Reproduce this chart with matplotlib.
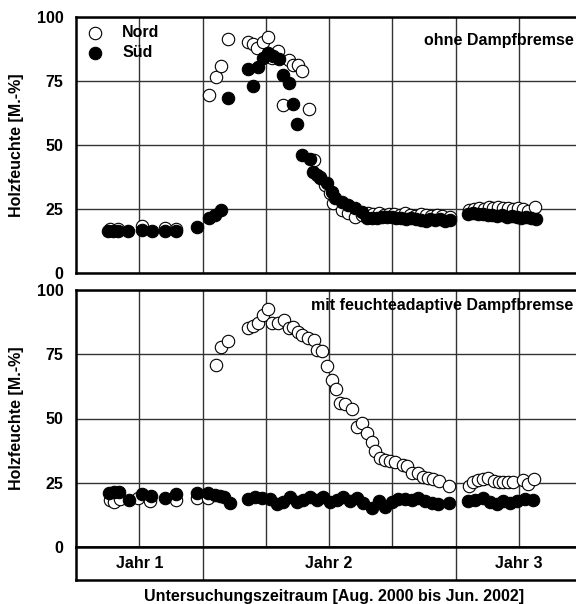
import numpy as np
import matplotlib
matplotlib.use("Agg")
from matplotlib import pyplot as plt

plt.rcParams.update({"font.family": ["Liberation Sans", "DejaVu Sans"],
                     "font.weight": "bold", "font.size": 11.5})

# x in months from the start of the study (Jahr 1 = 0..6, Jahr 2 = 6..18, Jahr 3 = 18..)
# --- top panel: ohne Dampfbremse ---
top_sued_m = [1.53, 1.77, 2.0, 2.48, 3.11, 3.59, 4.22, 4.74, 5.72, 6.33, 6.6, 6.9,
              7.23, 8.18, 8.41, 8.62, 8.86, 9.12, 9.36, 9.64, 9.83, 10.1, 10.31, 10.5,
              10.73, 11.1, 11.26, 11.42, 11.57, 11.89, 12.13, 12.29, 12.6, 12.92, 13.24,
              13.55, 13.79, 14.02, 14.26, 14.5, 14.74, 14.97, 15.2, 15.43, 15.66, 15.89,
              16.12, 16.35, 16.58, 16.81, 17.04, 17.27, 17.5, 17.74,
              18.6, 18.83, 19.06, 19.29, 19.52, 19.75, 19.98, 20.21, 20.44, 20.67, 20.9,
              21.13, 21.36, 21.59, 21.8]
top_sued_v = [16.4, 16.4, 16.6, 16.4, 16.8, 16.4, 16.5, 16.5, 18.1, 21.4, 22.7, 24.6,
              68.5, 79.7, 73.0, 80.6, 83.9, 86.0, 84.8, 83.5, 77.3, 74.1, 65.9, 58.2,
              46.1, 44.5, 39.6, 38.3, 37.0, 35.0, 31.8, 29.2, 27.9, 26.6, 25.3,
              24.0, 21.4, 21.5, 21.4, 21.8, 21.8, 22.0, 21.6, 21.3, 21.0, 21.5,
              21.2, 20.8, 20.5, 21.0, 20.7, 20.9, 20.4, 20.7,
              23.0, 23.3, 22.9, 23.1, 22.6, 22.8, 22.3, 22.5, 22.0, 22.2, 21.8,
              21.6, 21.9, 21.3, 21.2]
top_nord_m = [1.61, 2.0, 3.11, 4.22, 4.74,
              6.33, 6.64, 6.88, 7.23, 8.18, 8.38, 8.57, 8.86, 9.12, 9.28, 9.6, 9.83,
              10.1, 10.31, 10.52, 10.73, 11.05, 11.29, 11.55, 11.8, 12.05, 12.2, 12.6,
              12.9, 13.24, 13.55, 13.85, 14.1, 14.35, 14.6, 14.85, 15.1, 15.35, 15.6,
              15.85, 16.1, 16.35, 16.6, 16.85, 17.1, 17.35, 17.74,
              18.65, 18.88, 19.11, 19.34, 19.57, 19.8, 20.03, 20.26, 20.49, 20.72,
              20.95, 21.2, 21.45, 21.77]
top_nord_v = [17.1, 17.3, 18.5, 17.5, 17.2,
              69.5, 76.7, 80.9, 91.3, 90.4, 89.5, 87.8, 90.4, 92.3, 83.9, 86.8, 65.6,
              83.2, 81.3, 81.3, 78.9, 64.1, 44.1, 37.5, 34.5, 31.1, 27.2, 24.6,
              23.5, 22.0, 22.8, 23.3, 22.9, 23.5, 22.7, 23.2, 23.0, 22.6, 23.4,
              22.8, 22.3, 22.9, 22.5, 22.1, 22.6, 22.2, 22.0,
              24.6, 25.0, 25.3, 25.1, 25.6, 25.4, 25.8, 25.2, 25.5, 24.9,
              25.3, 24.9, 24.4, 25.9]

# --- bottom panel: mit feuchteadaptive Dampfbremse ---
bot_sued_m = [1.58, 1.82, 2.05, 2.51, 3.11, 3.56, 4.22, 4.74, 5.72, 6.28, 6.6, 6.83,
              7.04, 7.3, 8.18, 8.49, 8.81, 9.2, 9.52, 9.83, 10.15, 10.47, 10.78, 11.1,
              11.42, 11.73, 12.05, 12.37, 12.68, 13.0, 13.31, 13.63, 14.03, 14.35,
              14.66, 14.98, 15.29, 15.61, 15.92, 16.24, 16.56, 16.87, 17.19, 17.7,
              18.61, 18.93, 19.32, 19.64, 19.96, 20.27, 20.59, 20.9, 21.3, 21.69]
bot_sued_v = [20.9, 21.5, 21.3, 18.3, 20.5, 19.8, 19.2, 20.5, 20.9, 20.9, 20.2, 19.8,
              19.3, 17.2, 18.6, 19.3, 18.9, 18.6, 16.7, 17.6, 19.6, 17.6, 18.3, 19.6,
              18.3, 19.3, 17.6, 18.3, 19.6, 18.0, 18.9, 17.0, 15.1, 18.0,
              15.7, 17.6, 18.6, 18.6, 18.3, 18.9, 18.0, 17.0, 16.7, 17.2,
              18.0, 18.3, 18.9, 17.6, 16.7, 18.0, 17.0, 18.0, 18.6, 18.3]
bot_nord_m = [1.61, 1.8, 2.1, 2.96, 3.53, 4.74, 5.72, 6.28,
              6.64, 6.88, 7.23, 8.18, 8.38, 8.62, 8.86, 9.12, 9.28, 9.6, 9.88, 10.1,
              10.31, 10.52, 10.73, 11.02, 11.29, 11.42, 11.65, 11.89, 12.13, 12.32,
              12.52, 12.76, 13.11, 13.32, 13.58, 13.79, 14.03, 14.19, 14.42, 14.66,
              14.9, 15.13, 15.53, 15.69, 15.92, 16.24, 16.48, 16.71, 16.92, 17.24, 17.7,
              18.66, 18.85, 19.09, 19.32, 19.56, 19.83, 20.07, 20.27, 20.5, 20.74,
              21.19, 21.46, 21.73]
bot_nord_v = [18.3, 17.6, 18.8, 18.9, 17.9, 18.3, 18.9, 18.9,
              70.8, 77.9, 80.2, 85.3, 86.0, 87.3, 90.3, 92.6, 87.0, 87.3, 88.3, 85.1,
              85.7, 83.8, 82.5, 81.2, 80.5, 76.7, 76.3, 70.4, 65.0, 61.4,
              56.2, 55.6, 53.6, 46.8, 48.4, 44.2, 41.0, 37.5, 34.5, 33.9,
              33.5, 33.2, 31.9, 31.5, 28.9, 28.7, 27.4, 26.7, 26.5, 25.8, 23.7,
              23.7, 25.4, 26.1, 26.3, 26.7, 25.7, 25.4, 25.4, 25.4, 25.4,
              26.1, 24.5, 26.3]

years = ["Jahr 1", "Jahr 2", "Jahr 3"]
year_bounds = [0, 6, 18, 24]

W, H = 576, 604
fig = plt.figure(figsize=(W / 100, H / 100), dpi=100)
ax1 = fig.add_axes([76 / W, (H - 273) / H, 506 / W, 256 / H])
ax2 = fig.add_axes([76 / W, (H - 547) / H, 506 / W, 257 / H])
ax3 = fig.add_axes([76 / W, (H - 580) / H, 506 / W, 33 / H])

for ax in (ax1, ax2):
    ax.set_xlim(0, 24)
    ax.set_ylim(0, 100)
    ax.set_yticks([0, 25, 50, 75, 100])
    ax.set_xticks(np.arange(3, 24, 3))
    ax.tick_params(axis="x", length=0, labelbottom=False)
    ax.tick_params(axis="y", length=0, pad=9)
    ax.grid(True, color="#333333", lw=1)
    ax.set_axisbelow(True)
    for s in ax.spines.values():
        s.set_linewidth(1.8)
    ax.set_ylabel("Holzfeuchte [M.-%]", fontweight="bold", labelpad=9)

mk = dict(s=80, edgecolors="black", linewidths=0.8, clip_on=False, zorder=3)
ax1.scatter(top_nord_m, top_nord_v, facecolors="white", label="Nord", **mk)
ax1.scatter(top_sued_m, top_sued_v, facecolors="black", label="Süd", **mk)
ax2.scatter(bot_nord_m, bot_nord_v, facecolors="white", **mk)
ax2.scatter(bot_sued_m, bot_sued_v, facecolors="black", **mk)

ax1.legend(loc="upper left", frameon=False, handletextpad=1.0,
           borderaxespad=0.1, labelspacing=0.3, handlelength=1.4)
# right-aligned just inside the figure edge
ax1.text(23.6, 91, "ohne Dampfbremse", ha="right", va="center", fontweight="bold")
ax2.text(23.6, 93.8, "mit feuchteadaptive Dampfbremse", ha="right", va="center",
         fontweight="bold")

ax3.set_xlim(0, 24)
ax3.set_ylim(0, 1)
ax3.set_xticks([])
ax3.set_yticks([])
for s in ax3.spines.values():
    s.set_linewidth(1.8)
for b in year_bounds[1:-1]:
    ax3.axvline(b, color="#333333", lw=1)
for i, name in enumerate(years):
    ax3.text((year_bounds[i] + year_bounds[i + 1]) / 2, 0.5, name,
             ha="center", va="center", fontweight="bold")

fig.text(334.5 / W, (H - 596) / H, "Untersuchungszeitraum [Aug. 2000 bis Jun. 2002]",
         ha="center", va="center", fontweight="bold")

fig.savefig("out.png", dpi=100)
